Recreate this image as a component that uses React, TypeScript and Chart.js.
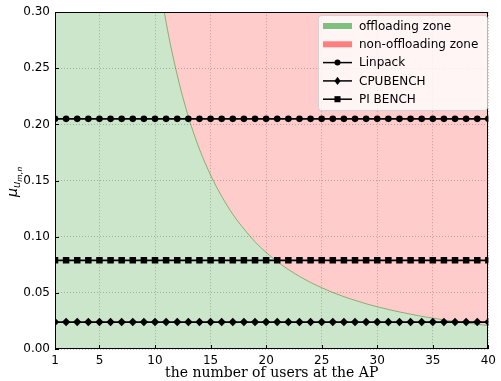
import React, { useEffect, useRef } from "react";
import { Chart, registerables } from "chart.js";

Chart.register(...registerables);

const users = [1, 2, 3, 4, 5, 6, 7, 8, 9, 10, 11, 12, 13, 14, 15, 16, 17, 18, 19, 20,
  21, 22, 23, 24, 25, 26, 27, 28, 29, 30, 31, 32, 33, 34, 35, 36, 37, 38, 39, 40];

// boundary between offloading / non-offloading zones
const boundary = [38.8, 9.43, 4.12, 2.29, 1.45, 1.0, 0.732, 0.557, 0.438, 0.354,
  0.291, 0.244, 0.207, 0.178, 0.155, 0.136, 0.12, 0.107, 0.0955, 0.086,
  0.0779, 0.0708, 0.0647, 0.0593, 0.0546, 0.0503, 0.0466, 0.0433, 0.0403, 0.0376,
  0.0352, 0.033, 0.031, 0.0291, 0.0275, 0.0259, 0.0245, 0.0232, 0.022, 0.0209];

const linpack = [0.205, 0.205, 0.205, 0.205, 0.205, 0.205, 0.205, 0.205, 0.205, 0.205,
  0.205, 0.205, 0.205, 0.205, 0.205, 0.205, 0.205, 0.205, 0.205, 0.205,
  0.205, 0.205, 0.205, 0.205, 0.205, 0.205, 0.205, 0.205, 0.205, 0.205,
  0.205, 0.205, 0.205, 0.205, 0.205, 0.205, 0.205, 0.205, 0.205, 0.205];

const cpubench = [0.024, 0.024, 0.024, 0.024, 0.024, 0.024, 0.024, 0.024, 0.024, 0.024,
  0.024, 0.024, 0.024, 0.024, 0.024, 0.024, 0.024, 0.024, 0.024, 0.024,
  0.024, 0.024, 0.024, 0.024, 0.024, 0.024, 0.024, 0.024, 0.024, 0.024,
  0.024, 0.024, 0.024, 0.024, 0.024, 0.024, 0.024, 0.024, 0.024, 0.024];

const pibench = [0.079, 0.079, 0.079, 0.079, 0.079, 0.079, 0.079, 0.079, 0.079, 0.079,
  0.079, 0.079, 0.079, 0.079, 0.079, 0.079, 0.079, 0.079, 0.079, 0.079,
  0.079, 0.079, 0.079, 0.079, 0.079, 0.079, 0.079, 0.079, 0.079, 0.079,
  0.079, 0.079, 0.079, 0.079, 0.079, 0.079, 0.079, 0.079, 0.079, 0.079];

const xTicks = [1, 5, 10, 15, 20, 25, 30, 35, 40];
const yTicks = [0, 0.05, 0.1, 0.15, 0.2, 0.25, 0.3];

const zoneLabels = ["offloading zone", "non-offloading zone"];
const seriesLabels = ["Linpack", "CPUBENCH", "PI BENCH"];
const xTitle = "the number of users at the AP";

const GREEN_FILL = "rgba(0,128,0,0.2)";
const RED_FILL = "rgba(255,0,0,0.2)";
const GREEN_PATCH = "rgb(127,191,127)";
const RED_PATCH = "rgb(255,127,127)";
const FONT = "'DejaVu Sans', sans-serif";

function drawMarker(ctx: CanvasRenderingContext2D, style: string, x: number, y: number, r: number) {
  ctx.beginPath();
  if (style === "circle") {
    ctx.arc(x, y, r, 0, Math.PI * 2);
  } else if (style === "rectRot") {
    ctx.moveTo(x, y - r * 1.15);
    ctx.lineTo(x + r * 0.85, y);
    ctx.lineTo(x, y + r * 1.15);
    ctx.lineTo(x - r * 0.85, y);
    ctx.closePath();
  } else {
    ctx.rect(x - r * 0.8, y - r * 0.8, r * 1.6, r * 1.6);
  }
  ctx.fill();
}

const decorPlugin = {
  id: "decor",
  afterDraw(chart: any) {
    const ctx = chart.ctx as CanvasRenderingContext2D;
    const a = chart.chartArea;
    const xs = chart.scales.x;
    const ys = chart.scales.y;
    ctx.save();
    // frame
    ctx.strokeStyle = "#000";
    ctx.lineWidth = 1;
    ctx.strokeRect(Math.round(a.left) + 0.5, Math.round(a.top) + 0.5,
      Math.round(a.right - a.left) - 1, Math.round(a.bottom - a.top) - 1);
    // inward ticks
    ctx.beginPath();
    xTicks.forEach((v) => {
      const px = Math.round(xs.getPixelForValue(v)) + 0.5;
      ctx.moveTo(px, a.bottom);
      ctx.lineTo(px, a.bottom - 4);
    });
    yTicks.forEach((v) => {
      const py = Math.round(ys.getPixelForValue(v)) + 0.5;
      ctx.moveTo(a.left, py);
      ctx.lineTo(a.left + 4, py);
    });
    ctx.stroke();

    // legend
    const bx = 318, by = 15, bw = 169, bh = 95;
    ctx.beginPath();
    (ctx as any).roundRect(bx + 0.5, by + 0.5, bw, bh, 3);
    ctx.fillStyle = "rgba(255,255,255,0.8)";
    ctx.fill();
    ctx.strokeStyle = "rgba(204,204,204,0.8)";
    ctx.lineWidth = 1;
    ctx.stroke();

    const rowY = (i: number) => 26 + i * 18.3;
    const sx0 = 323, sx1 = 352, tx = 359;
    ctx.font = `12px ${FONT}`;
    ctx.textBaseline = "middle";
    ctx.textAlign = "left";
    const patchColors = [GREEN_PATCH, RED_PATCH];
    zoneLabels.forEach((lab, i) => {
      const y = rowY(i);
      ctx.fillStyle = patchColors[i];
      ctx.fillRect(sx0, y - 3, sx1 - sx0, 6);
      ctx.fillStyle = "#000";
      ctx.fillText(lab, tx, y + 0.5);
    });
    const styles = ["circle", "rectRot", "rect"];
    const radii = [3, 3.6, 3.8];
    seriesLabels.forEach((lab, j) => {
      const y = rowY(j + 2);
      ctx.strokeStyle = "#000";
      ctx.lineWidth = 1.5;
      ctx.beginPath();
      ctx.moveTo(sx0, y);
      ctx.lineTo(sx1, y);
      ctx.stroke();
      ctx.fillStyle = "#000";
      drawMarker(ctx, styles[j], (sx0 + sx1) / 2, y, radii[j]);
      ctx.fillStyle = "#000";
      ctx.fillText(lab, tx, y + 0.5);
    });

    // x title
    ctx.fillStyle = "#000";
    ctx.font = `14px 'DejaVu Serif', serif`;
    ctx.textAlign = "center";
    ctx.textBaseline = "alphabetic";
    ctx.fillText(xTitle, (a.left + a.right) / 2, 377);

    // y title: mu_{u_{m,n}}
    ctx.translate(17, 197);
    ctx.rotate(-Math.PI / 2);
    ctx.textAlign = "left";
    ctx.font = `italic 14px ${FONT}`;
    ctx.fillText("μ", 0, 0);
    let off = ctx.measureText("μ").width;
    ctx.font = `italic 10px ${FONT}`;
    ctx.fillText("u", off, 2.5);
    off += ctx.measureText("u").width;
    ctx.font = `italic 7.5px ${FONT}`;
    ctx.fillText("m", off, 4.5);
    off += ctx.measureText("m").width;
    ctx.font = `7.5px ${FONT}`;
    ctx.fillText(",", off, 4.5);
    off += ctx.measureText(",").width + 0.5;
    ctx.font = `italic 7.5px ${FONT}`;
    ctx.fillText("n", off, 4.5);
    ctx.restore();
  },
};

export default function App() {
  const ref = useRef<HTMLCanvasElement | null>(null);
  useEffect(() => {
    if (!ref.current) return;
    const mk = (arr: number[]) => users.map((u, i) => ({ x: u, y: arr[i] }));
    const chart = new Chart(ref.current, {
      type: "line",
      data: {
        datasets: [
          {
            label: seriesLabels[0],
            data: mk(linpack),
            borderColor: "#000",
            backgroundColor: "#000",
            borderWidth: 1.8,
            pointStyle: "circle",
            pointRadius: 3.3,
            pointBorderWidth: 0,
            fill: false,
            order: 1,
          },
          {
            label: seriesLabels[1],
            data: mk(cpubench),
            borderColor: "#000",
            backgroundColor: "#000",
            borderWidth: 1.8,
            pointStyle: "rectRot",
            pointRadius: 4.2,
            pointBorderWidth: 0,
            fill: false,
            order: 1,
          },
          {
            label: seriesLabels[2],
            data: mk(pibench),
            borderColor: "#000",
            backgroundColor: "#000",
            borderWidth: 1.8,
            pointStyle: "rect",
            pointRadius: 4.6,
            pointBorderWidth: 0,
            fill: false,
            order: 1,
          },
          {
            label: zoneLabels[0],
            data: mk(boundary),
            borderColor: "rgba(0,128,0,0.45)",
            backgroundColor: GREEN_FILL,
            borderWidth: 1,
            pointRadius: 0,
            fill: "origin",
            cubicInterpolationMode: "monotone",
            order: 3,
          },
          {
            label: zoneLabels[1],
            data: mk(boundary),
            borderColor: "rgba(0,0,0,0)",
            backgroundColor: RED_FILL,
            borderWidth: 0,
            pointRadius: 0,
            fill: "end",
            cubicInterpolationMode: "monotone",
            order: 2,
          },
        ],
      },
      options: {
        responsive: false,
        animation: false,
        layout: { padding: { left: 0, top: 11, right: 10, bottom: 0 } },
        plugins: { legend: { display: false }, tooltip: { enabled: false } },
        scales: {
          x: {
            type: "linear",
            min: 1,
            max: 40,
            afterBuildTicks: (s: any) => {
              s.ticks = xTicks.map((v) => ({ value: v }));
            },
            afterFit: (s: any) => {
              s.height = 32;
            },
            grid: { color: "#b0b0b0", lineWidth: 0.8, drawTicks: false },
            border: { display: false, dash: [1, 2] },
            ticks: {
              color: "#000",
              font: { family: FONT, size: 12 },
              padding: 5,
              maxRotation: 0,
              autoSkip: false,
              callback: (v: any) => String(v),
            },
          },
          y: {
            type: "linear",
            min: 0,
            max: 0.3,
            afterBuildTicks: (s: any) => {
              s.ticks = yTicks.map((v) => ({ value: v }));
            },
            afterFit: (s: any) => {
              s.width = 55;
            },
            grid: { color: "#b0b0b0", lineWidth: 0.8, drawTicks: false },
            border: { display: false, dash: [1, 2] },
            ticks: {
              color: "#000",
              font: { family: FONT, size: 12 },
              padding: 5,
              callback: (v: any) => Number(v).toFixed(2),
            },
          },
        },
      },
      plugins: [decorPlugin],
    } as any);
    return () => chart.destroy();
  }, []);
  return (
    <div style={{ position: "absolute", left: 0, top: 0, width: 501, height: 381, background: "#fff" }}>
      <canvas ref={ref} width={501} height={381} />
    </div>
  );
}
